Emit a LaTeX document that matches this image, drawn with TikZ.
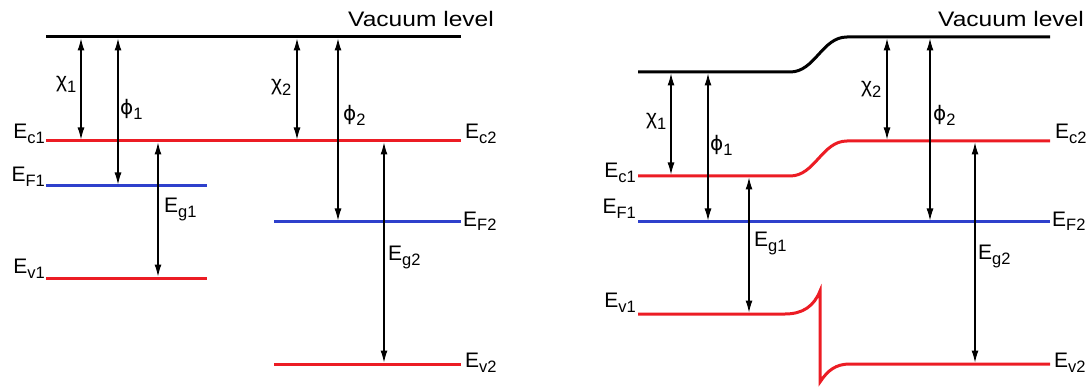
\documentclass[tikz,border=0pt]{standalone}
\usepackage{fontspec}
\setmainfont{Liberation Sans}
\newfontfamily\dvfont{DejaVu Sans}
\usepackage{graphicx}
\usetikzlibrary{arrows.meta}
\definecolor{bandred}{RGB}{236,28,36}
\definecolor{fermiblue}{RGB}{46,64,204}
\newcommand{\lsub}[1]{\raisebox{-5pt}{\fontsize{16.5}{16.5}\selectfont #1}}
\newcommand{\phisym}{{\dvfont\fontsize{20}{24}\selectfont ϕ}}
\tikzset{
  lvl/.style={line width=3pt},
  cband/.style={lvl,draw=bandred},
  fband/.style={lvl,draw=fermiblue},
  vac/.style={lvl,draw=black},
  dblarr/.style={line width=1.1pt,{Latex[length=12pt,width=7pt]}-{Latex[length=12pt,width=7pt]},shorten <=1.5pt,shorten >=1.5pt},
  lab/.style={font=\fontsize{21}{24}\selectfont,inner sep=0pt},
  lbl/.style={lab,anchor=base west},
  lbr/.style={lab,anchor=base east},
}
\begin{document}
\begin{tikzpicture}[x=1pt,y=-1pt]
\useasboundingbox (0,0) rectangle (1091,387);
% ---------------- left panel ----------------
\draw[vac] (46,37) -- (461,37);
\draw[cband] (46,141) -- (461,141);
\draw[fband] (46,186) -- (207,186);
\draw[cband] (46,278) -- (207,278);
\draw[fband] (274,222) -- (461,222);
\draw[cband] (274,364) -- (461,364);
\node[lab,anchor=base west] (vacL) at (348,27) {\scalebox{1.17}[1]{Vacuum level}};
% coordinates
\coordinate (a1t) at (81,37);  \coordinate (a1b) at (81,141);
\coordinate (b1t) at (118,37); \coordinate (b1b) at (118,186);
\coordinate (g1t) at (158,141);\coordinate (g1b) at (158,278);
\coordinate (a2t) at (297,37); \coordinate (a2b) at (297,141);
\coordinate (b2t) at (338,37); \coordinate (b2b) at (338,222);
\coordinate (g2t) at (384,141);\coordinate (g2b) at (384,364);
\draw[dblarr] (a1t) -- (a1b);
\draw[dblarr] (b1t) -- (b1b);
\draw[dblarr] (g1t) -- (g1b);
\draw[dblarr] (a2t) -- (a2b);
\draw[dblarr] (b2t) -- (b2b);
\draw[dblarr] (g2t) -- (g2b);
\node[lbl] (chi1L) at (56,88) {χ\lsub{1}};
\node[lbl] (phi1L) at (120,115) {\phisym\lsub{1}};
\node[lbl] (chi2L) at (271,91) {χ\lsub{2}};
\node[lbl] (phi2L) at (343,121) {\phisym\lsub{2}};
\node[lbl] (eg1L) at (164,213) {E\lsub{g1}};
\node[lbl] (eg2L) at (388,260) {E\lsub{g2}};
\node[lbr] (ec1L) at (45,139) {E\lsub{c1}};
\node[lbr] (ef1L) at (45,182) {E\lsub{F1}};
\node[lbr] (ev1L) at (45,273) {E\lsub{v1}};
\node[lbl] (ec2L) at (465,139) {E\lsub{c2}};
\node[lbl] (ef2L) at (463,226) {E\lsub{F2}};
\node[lbl] (ev2L) at (465,367) {E\lsub{v2}};
% ---------------- right panel ----------------
\draw[vac] (638,72) -- (790,72) .. controls (815,72) and (822,37) .. (847,37) -- (1050,37);
\draw[cband] (638,176) -- (790,176) .. controls (815,176) and (822,141) .. (847,141) -- (1050,141);
\draw[fband] (638,222) -- (1050,222);
\draw[cband,line join=miter] (638,314) -- (785,314) .. controls (803,314) and (814,306) .. (820,291) -- (820,382) .. controls (828,370) and (836,364) .. (850,364) -- (1050,364);
\node[lab,anchor=base west] (vacR) at (938,27) {\scalebox{1.17}[1]{Vacuum level}};
\coordinate (c1t) at (671,72);  \coordinate (c1b) at (671,176);
\coordinate (d1t) at (708,72);  \coordinate (d1b) at (708,222);
\coordinate (h1t) at (749,176); \coordinate (h1b) at (749,314);
\coordinate (c2t) at (887,37);  \coordinate (c2b) at (887,141);
\coordinate (d2t) at (930,37);  \coordinate (d2b) at (930,222);
\coordinate (h2t) at (975,141); \coordinate (h2b) at (975,364);
\draw[dblarr] (c1t) -- (c1b);
\draw[dblarr] (d1t) -- (d1b);
\draw[dblarr] (h1t) -- (h1b);
\draw[dblarr] (c2t) -- (c2b);
\draw[dblarr] (d2t) -- (d2b);
\draw[dblarr] (h2t) -- (h2b);
\node[lbl] (chi1R) at (646,125) {χ\lsub{1}};
\node[lbl] (phi1R) at (710,151) {\phisym\lsub{1}};
\node[lbl] (chi2R) at (861,93) {χ\lsub{2}};
\node[lbl] (phi2R) at (933,121) {\phisym\lsub{2}};
\node[lbl] (eg1R) at (754,247) {E\lsub{g1}};
\node[lbl] (eg2R) at (978,259) {E\lsub{g2}};
\node[lbr] (ec1R) at (636,178) {E\lsub{c1}};
\node[lbr] (ef1R) at (636,214) {E\lsub{F1}};
\node[lbr] (ev1R) at (636,307) {E\lsub{v1}};
\node[lbl] (ec2R) at (1055,139) {E\lsub{c2}};
\node[lbl] (ef2R) at (1052,226) {E\lsub{F2}};
\node[lbl] (ev2R) at (1054,367) {E\lsub{v2}};
\end{tikzpicture}
\end{document}
